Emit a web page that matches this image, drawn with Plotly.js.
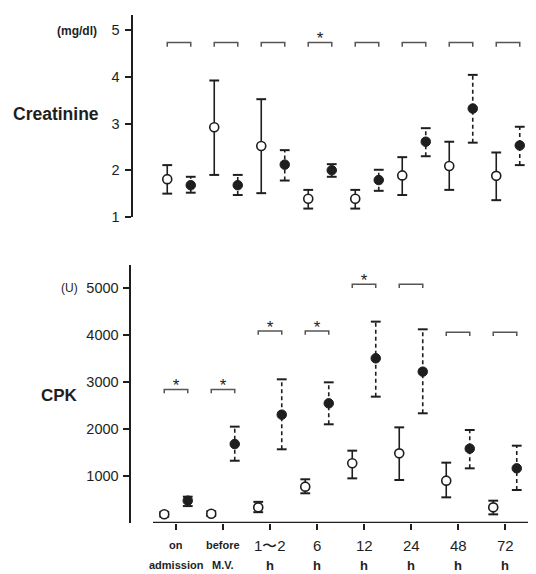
<!DOCTYPE html>
<html>
<head>
<meta charset="utf-8">
<script src="https://cdn.plot.ly/plotly-3.0.1.min.js"></script>
<style>html,body{margin:0;padding:0;background:#fff;}#chart{width:536px;height:574px;}</style>
</head>
<body>
<div id="chart"></div>
<script>
// ---- DATA ----
var groups = [0, 1, 2, 3, 4, 5, 6, 7];
var xLabelTop = ['on', 'before', '1\u301C2', '6', '12', '24', '48', '72'];
var xLabelBottom = ['admission', 'M.V.', 'h', 'h', 'h', 'h', 'h', 'h'];

var creatOpenMean = [1.81, 2.92, 2.52, 1.39, 1.39, 1.89, 2.09, 1.88];
var creatOpenHi   = [2.11, 3.92, 3.52, 1.58, 1.58, 2.28, 2.61, 2.38];
var creatOpenLo   = [1.50, 1.90, 1.51, 1.18, 1.18, 1.47, 1.58, 1.36];
var creatFilledMean = [1.68, 1.68, 2.12, 2.00, 1.79, 2.61, 3.32, 2.53];
var creatFilledHi   = [1.86, 1.90, 2.43, 2.13, 2.01, 2.90, 4.04, 2.93];
var creatFilledLo   = [1.52, 1.47, 1.78, 1.86, 1.56, 2.30, 2.59, 2.11];
var creatBracket = [4.73, 4.73, 4.73, 4.73, 4.73, 4.73, 4.73, 4.73];
var creatSig = [false, false, false, true, false, false, false, false];

var cpkOpenMean = [185, 198, 333, 773, 1270, 1482, 901, 333];
var cpkOpenHi   = [235, 250, 450, 930, 1539, 2035, 1284, 475];
var cpkOpenLo   = [135, 150, 230, 632, 950, 915, 546, 184];
var cpkFilledMean = [475, 1680, 2305, 2546, 3504, 3220, 1582, 1163];
var cpkFilledHi   = [560, 2050, 3057, 2993, 4284, 4121, 1979, 1645];
var cpkFilledLo   = [360, 1325, 1568, 2100, 2688, 2334, 1163, 702];
var cpkBracket = [2843, 2843, 4085, 4085, 5078, 5078, 4057, 4057];
var cpkSig = [true, true, true, true, true, false, false, false];

var creatTicks = [1, 2, 3, 4, 5];
var cpkTicks = [1000, 2000, 3000, 4000, 5000];

// ---- helpers ----
var OFF = 0.25, INK = '#1e1e1e';
function stems(xs, lo, hi) {
  var X = [], Y = [];
  for (var i = 0; i < xs.length; i++) { X.push(xs[i], xs[i], null); Y.push(lo[i], hi[i], null); }
  return {x: X, y: Y};
}
function brackets(h, d) {
  var X = [], Y = [];
  for (var i = 0; i < groups.length; i++) {
    var a = groups[i] - OFF, b = groups[i] + OFF;
    X.push(a, a, b, b, null); Y.push(h[i] - d, h[i], h[i], h[i] - d, null);
  }
  return {x: X, y: Y};
}
function shift(arr, o) { return arr.map(function (v) { return v + o; }); }

function panel(xa, ya, oMean, oHi, oLo, fMean, fHi, fLo, br, sig, d, starOff) {
  var xo = shift(groups, -OFF), xf = shift(groups, OFF);
  var so = stems(xo, oLo, oHi), sf = stems(xf, fLo, fHi), bk = brackets(br, d);
  var sx = [], sy = [];
  for (var i = 0; i < groups.length; i++) if (sig[i]) { sx.push(groups[i]); sy.push(br[i] + starOff); }
  var common = {xaxis: xa, yaxis: ya, showlegend: false, hoverinfo: 'skip'};
  function t(o) { return Object.assign({}, common, o); }
  return [
    t({type: 'scatter', mode: 'lines', x: bk.x, y: bk.y, line: {color: '#555', width: 1.5}}),
    t({type: 'scatter', mode: 'lines', x: so.x, y: so.y, line: {color: INK, width: 1.6}}),
    t({type: 'scatter', mode: 'lines', x: sf.x, y: sf.y, line: {color: INK, width: 1.6, dash: '4px,3px'}}),
    t({type: 'scatter', mode: 'markers', x: xo.concat(xo), y: oHi.concat(oLo), marker: {symbol: 'line-ew', size: 7, line: {color: INK, width: 2}}}),
    t({type: 'scatter', mode: 'markers', x: xf.concat(xf), y: fHi.concat(fLo), marker: {symbol: 'line-ew', size: 7, line: {color: INK, width: 2}}}),
    t({type: 'scatter', mode: 'markers', x: xo, y: oMean, marker: {symbol: 'circle', size: 9, color: '#fff', line: {color: INK, width: 1.6}}}),
    t({type: 'scatter', mode: 'markers', x: xf, y: fMean, marker: {symbol: 'circle', size: 9.5, color: INK, line: {color: INK, width: 1}}}),
    t({type: 'scatter', mode: 'text', x: sx, y: sy, textposition: 'top center', text: sx.map(function () { return '*'; }), textfont: {family: 'Liberation Sans, Arial', size: 17, color: INK}})
  ];
}

var data = []
  .concat(panel('x2', 'y', creatOpenMean, creatOpenHi, creatOpenLo, creatFilledMean, creatFilledHi, creatFilledLo, creatBracket, creatSig, 0.09, -0.13))
  .concat(panel('x', 'y2', cpkOpenMean, cpkOpenHi, cpkOpenLo, cpkFilledMean, cpkFilledHi, cpkFilledLo, cpkBracket, cpkSig, 80, -130));

var tickFont = {family: 'Liberation Sans Narrow, Liberation Sans, Arial', size: 14.5, color: INK};

var annotations = [
  {text: '<b>(mg/dl)</b>', xref: 'paper', yref: 'paper', x: 77 / 536, y: 1 - 31 / 574, showarrow: false, xanchor: 'center', yanchor: 'middle', font: {family: 'Liberation Sans, Arial', size: 12, color: INK}},
  {text: '<b>Creatinine</b>', xref: 'paper', yref: 'paper', x: 56 / 536, y: 1 - 114 / 574, showarrow: false, xanchor: 'center', yanchor: 'middle', font: {family: 'Liberation Sans, Arial', size: 17.5, color: INK}},
  {text: '(U)', xref: 'paper', yref: 'paper', x: 69 / 536, y: 1 - 288 / 574, showarrow: false, xanchor: 'center', yanchor: 'middle', font: {family: 'Liberation Sans, Arial', size: 12, color: INK}},
  {text: '<b>CPK</b>', xref: 'paper', yref: 'paper', x: 59 / 536, y: 1 - 395 / 574, showarrow: false, xanchor: 'center', yanchor: 'middle', font: {family: 'Liberation Sans, Arial', size: 17, color: INK}}
];
for (var i = 0; i < groups.length; i++) {
  var numeric = i >= 2;
  annotations.push({text: numeric ? xLabelTop[i] : '<b>' + xLabelTop[i] + '</b>', xref: 'x', yref: 'paper', x: groups[i], y: 1 - 545 / 574,
    showarrow: false, xanchor: 'center', yanchor: 'middle',
    font: numeric ? {family: tickFont.family, size: 15, color: INK} : {family: 'Liberation Sans, Arial', size: 11, color: INK}});
  annotations.push({text: '<b>' + xLabelBottom[i] + '</b>', xref: 'x', yref: 'paper', x: groups[i], y: 1 - 565 / 574,
    showarrow: false, xanchor: 'center', yanchor: 'middle',
    font: {family: 'Liberation Sans, Arial', size: numeric ? 13 : 11, color: INK}});
}

var layout = {
  width: 536, height: 574,
  margin: {l: 0, r: 0, t: 0, b: 0, pad: 0},
  paper_bgcolor: '#fff', plot_bgcolor: '#fff',
  showlegend: false,
  xaxis: {domain: [131 / 536, 1], range: [(131 - 176) / 47, (536 - 176) / 47], anchor: 'y2',
    showgrid: false, zeroline: false, showline: false, tickvals: groups, ticks: 'outside', ticklen: 6, tickwidth: 2, tickcolor: INK, showticklabels: false},
  xaxis2: {domain: [133 / 536, 1], range: [(133 - 179) / 47, (536 - 179) / 47], anchor: 'y',
    visible: false, showgrid: false, zeroline: false},
  yaxis: {domain: [1 - 217 / 574, 1 - 15 / 574], range: [1, 1 + 202 / 46.75], anchor: 'x2',
    showgrid: false, zeroline: false, showline: true, linewidth: 2.5, linecolor: INK,
    tickvals: creatTicks, ticks: 'outside', ticklen: 6, tickwidth: 2, tickcolor: INK, tickfont: tickFont, ticklabelstandoff: 2},
  yaxis2: {domain: [1 - 523 / 574, 1 - 265 / 574], range: [0, 258 / 47 * 1000], anchor: 'x',
    showgrid: false, zeroline: false, showline: true, linewidth: 2.5, linecolor: INK,
    tickvals: cpkTicks, ticks: 'outside', ticklen: 6, tickwidth: 2, tickcolor: INK, tickfont: tickFont, ticklabelstandoff: 1},
  shapes: [
    {type: 'line', xref: 'x', yref: 'y2', x0: (153 - 176) / 47, x1: (528 - 176) / 47, y0: 0, y1: 0, line: {color: INK, width: 2.5}}
  ],
  annotations: annotations
};

Plotly.newPlot('chart', data, layout, {displayModeBar: false, staticPlot: true});
</script>
</body>
</html>
